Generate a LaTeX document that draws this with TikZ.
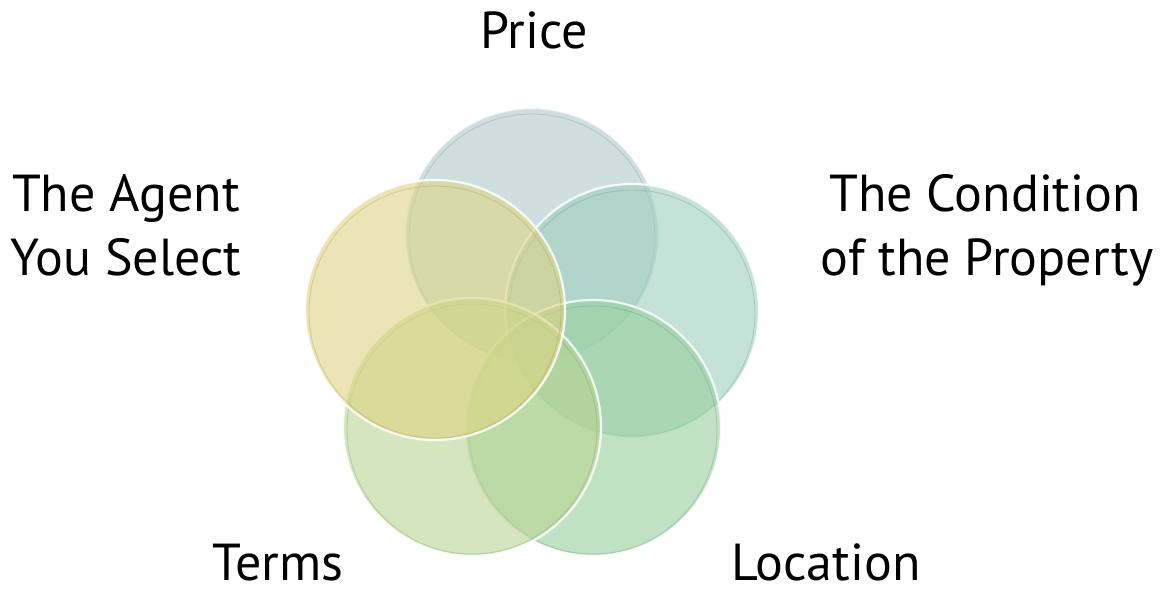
\documentclass[tikz,border=0pt]{standalone}
\usepackage{fontspec}
\setmainfont{PT Sans}
\definecolor{cprice}{HTML}{AFCBCB}
\definecolor{ccond}{HTML}{9ECFBE}
\definecolor{cloc}{HTML}{98D09E}
\definecolor{cterms}{HTML}{B9D591}
\definecolor{cagent}{HTML}{DED584}
\tikzset{
  glass/.style={circle, inner sep=0pt, outer sep=0pt, fill opacity=0.6, draw=white, draw opacity=0.85, line width=2.2pt},
  rim/.style={circle, inner sep=0pt, outer sep=0pt, draw opacity=0.35, line width=0.8pt},
  lbl/.style={font=\fontsize{52}{64}\selectfont, text=black, inner sep=0pt}
}
\begin{document}
\begin{tikzpicture}[x=1pt,y=-1pt]
\path[use as bounding box, fill=white] (0,0) rectangle (1165,593);
% circles
\node[glass, fill=cprice, minimum size=254pt] (price) at (532,235) {};
\node[rim, draw=cprice!70!black, minimum size=246pt] (pricerim) at (532,237) {};
\node[glass, fill=ccond, minimum size=254pt] (cond) at (632,311) {};
\node[rim, draw=ccond!70!black, minimum size=246pt] (condrim) at (632,313) {};
\node[glass, fill=cloc, minimum size=256pt] (loc) at (593,428) {};
\node[rim, draw=cloc!70!black, minimum size=248pt] (locrim) at (593,430) {};
\node[glass, fill=cterms, minimum size=258pt] (terms) at (472,427) {};
\node[rim, draw=cterms!70!black, minimum size=250pt] (termsrim) at (472,429) {};
\node[glass, fill=cagent, minimum size=260pt] (agent) at (435,310) {};
\node[rim, draw=cagent!70!black, minimum size=252pt] (agentrim) at (435,312) {};
% labels
\node[lbl, anchor=base] (lprice) at (534,49) {Price};
\node[lbl, anchor=base] (lagent1) at (126,212) {The Agent};
\node[lbl, anchor=base] (lagent2) at (126,276) {You Select};
\node[lbl, anchor=base] (lcond1) at (985,212) {The Condition};
\node[lbl, anchor=base] (lcond2) at (987,276) {of the Property};
\node[lbl, anchor=base, text depth=0pt] (lterms) at (278,580) {Terms};
\node[lbl, anchor=base, text depth=0pt] (lloc) at (826,580) {Location};
\end{tikzpicture}
\end{document}
